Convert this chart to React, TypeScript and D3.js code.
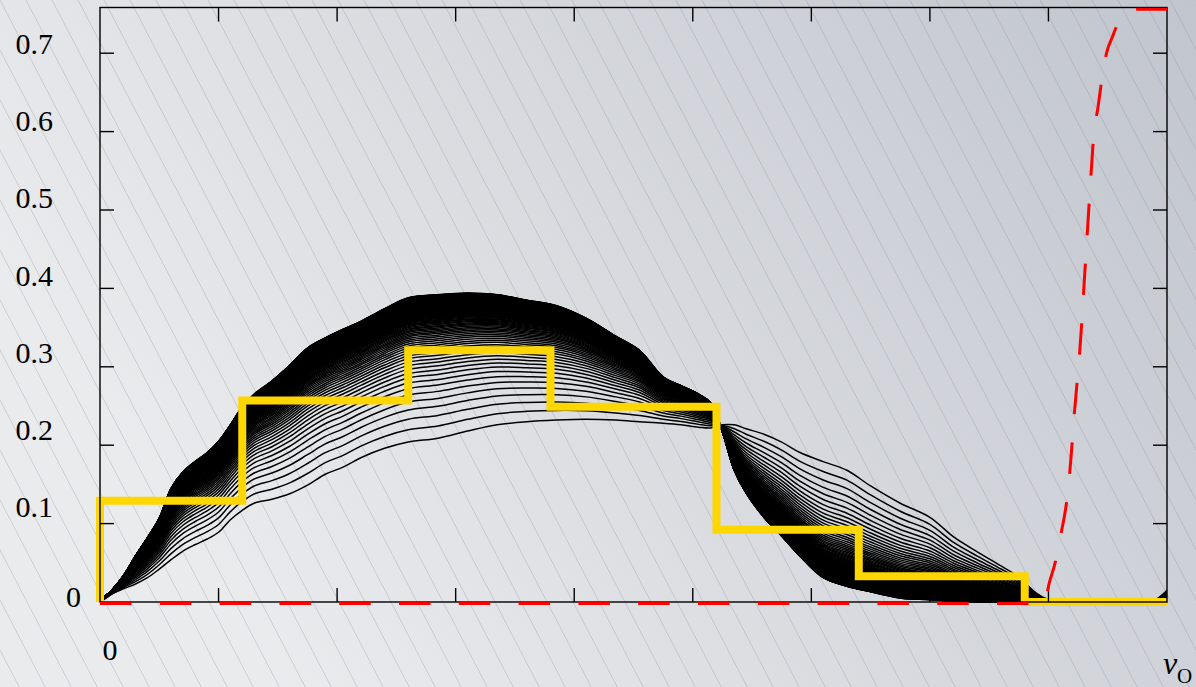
import React from 'react';
import * as d3 from 'd3';

const W = 1196;
const H = 687;

// axis ticks
const X_TICKS = [1, 2, 3, 4, 5, 6, 7, 8];
const Y_TICKS = [0.1, 0.2, 0.3, 0.4, 0.5, 0.6, 0.7];
const Y_TICK_LABELS = ['0.1', '0.2', '0.3', '0.4', '0.5', '0.6', '0.7'];

// shared abscissae of the curve family
const GRID_V = [0, 0.05, 0.1, 0.2, 0.3, 0.4, 0.5, 0.6, 0.7, 0.8, 0.9, 1.0, 1.1, 1.2, 1.3, 1.45, 1.6, 1.75, 1.9, 2.05,
  2.2, 2.4, 2.6, 2.85, 3.1, 3.35, 3.6, 3.85, 4.1, 4.35, 4.55, 4.75, 4.9, 5.05, 5.15, 5.25, 5.35, 5.45, 5.6, 5.75,
  5.9, 6.1, 6.3, 6.5, 6.75, 7.0, 7.2, 7.4, 7.6, 7.75, 7.9, 8.0, 8.1, 8.4, 8.75, 8.9, 9.0];

// initial (lowest on the left) curve
const INITIAL_CURVE = [0, 0.005, 0.010, 0.017, 0.023, 0.031, 0.042, 0.054, 0.065, 0.073, 0.080, 0.089, 0.105, 0.117,
  0.126, 0.131, 0.138, 0.149, 0.163, 0.172, 0.184, 0.196, 0.204, 0.209, 0.218, 0.226, 0.230, 0.232, 0.233, 0.232,
  0.230, 0.228, 0.226, 0.223, 0.222, 0.226, 0.226, 0.221, 0.214, 0.204, 0.191, 0.179, 0.168, 0.148, 0.126, 0.108,
  0.083, 0.064, 0.046, 0.032, 0.011, 0.003, 0, 0, 0, 0.003, 0.015];

// final (highest on the left) curve
const FINAL_CURVE = [0, 0.008, 0.015, 0.034, 0.059, 0.082, 0.107, 0.145, 0.166, 0.179, 0.190, 0.205, 0.226, 0.249,
  0.265, 0.282, 0.302, 0.324, 0.337, 0.348, 0.358, 0.374, 0.388, 0.392, 0.394, 0.392, 0.385, 0.378, 0.362, 0.339,
  0.321, 0.287, 0.276, 0.265, 0.254, 0.217, 0.168, 0.139, 0.108, 0.084, 0.059, 0.031, 0.020, 0.013, 0.005, 0.003,
  0.001, 0, 0, 0, 0, 0, 0, 0, 0, 0, 0];

// relative position of each intermediate curve between final (0) and initial (1)
const CURVE_WEIGHTS = [1, 0.915, 0.842, 0.778, 0.723, 0.674, 0.630, 0.591, 0.556, 0.525, 0.496, 0.470, 0.446, 0.423,
  0.403, 0.384, 0.366, 0.350, 0.335, 0.320, 0.307, 0.294, 0.282, 0.271, 0.261, 0.251, 0.241, 0.232, 0.224, 0.216,
  0.208, 0.200, 0.193, 0.187, 0.180, 0.174, 0.168, 0.163, 0.157, 0.152, 0.147, 0.142, 0.137, 0.133, 0.129, 0.124,
  0.120, 0.117, 0.113, 0.109, 0.106, 0.102, 0.099, 0.096, 0.093, 0.090, 0.087, 0.084, 0.081, 0.078, 0.076, 0.073,
  0.071, 0.068, 0.066, 0.064, 0.062, 0.059, 0.057, 0.055, 0.053, 0.051, 0.049, 0.048, 0.046, 0.044, 0.042, 0.041,
  0.039, 0.037, 0.036, 0.034, 0.033, 0.031, 0.030, 0.028, 0.027, 0.025, 0.024, 0.023, 0.021, 0.020, 0.019, 0.018,
  0.016, 0.015, 0.014, 0.013, 0.012, 0.011, 0.010, 0.009, 0.008, 0.007, 0.006, 0.005, 0.004, 0.003, 0.002, 0.001, 0];

// yellow step function
const STEP_EDGES = [0, 1.2, 2.6, 3.8, 5.2, 6.4, 7.8, 9.0];
const STEP_VALUES = [0.129, 0.257, 0.321, 0.249, 0.092, 0.033, 0];

// red dashed curve
const RED_V = [0, 7.96, 8.01, 8.06, 8.11, 8.15, 8.18, 8.22, 8.27, 8.31, 8.35, 8.38, 8.42, 8.45, 8.49, 8.54, 8.58,
  8.64, 8.70, 8.77, 9.0];
const RED_Y = [0, 0, 0.028, 0.054, 0.092, 0.126, 0.168, 0.245, 0.334, 0.430, 0.526, 0.593, 0.635, 0.668, 0.702,
  0.723, 0.738, 0.750, 0.757, 0.758, 0.758];

const SERIF = '"Liberation Serif", "Times New Roman", "DejaVu Serif", serif';

export default function App() {
  const L = 100, R = 1167, T = 7.5, B = 602;
  const x = d3.scaleLinear().domain([0, 9]).range([L, R]);
  const y = d3.scaleLinear().domain([0, (B - T) / 784]).range([B, T]);
  const labelY = d3.scaleLinear().domain([0.1, 0.7]).range([517, 54]);

  const curveLine = d3.line<[number, number]>()
    .x(d => x(d[0]))
    .y(d => y(d[1]))
    .curve(d3.curveCatmullRom.alpha(0.5));

  const curves = CURVE_WEIGHTS.map(w =>
    curveLine(GRID_V.map((v, i) => [v, FINAL_CURVE[i] + (INITIAL_CURVE[i] - FINAL_CURVE[i]) * w] as [number, number])) || ''
  );

  const stepPts: [number, number][] = [[0, 0]];
  STEP_VALUES.forEach((s, i) => stepPts.push([STEP_EDGES[i], s]));
  stepPts.push([STEP_EDGES[STEP_EDGES.length - 1], STEP_VALUES[STEP_VALUES.length - 1]]);
  const stepPath = d3.line<[number, number]>().x(d => x(d[0])).y(d => y(d[1])).curve(d3.curveStepAfter)(stepPts) || '';

  const redPath = d3.line<[number, number]>().x(d => x(d[0])).y(d => y(d[1])).curve(d3.curveMonotoneX)(
    RED_V.map((v, i) => [v, RED_Y[i]] as [number, number])) || '';

  const hatch: number[] = d3.range(-30, 50).map(k => k * 26);

  return (
    <svg width={W} height={H} style={{ position: 'absolute', left: 0, top: 0 }}>
      <defs>
        <linearGradient id="bg" x1="0" y1="0.4" x2="1" y2="0">
          <stop offset="0" stopColor="#eaebed" />
          <stop offset="1" stopColor="#c1c5cd" />
        </linearGradient>
        <clipPath id="plot">
          <rect x={L} y={T - 1} width={R - L} height={B - T + 6} />
        </clipPath>
      </defs>
      <rect x={0} y={0} width={W} height={H} fill="url(#bg)" />
      <g stroke="#8d9098" strokeOpacity={0.45} strokeWidth={0.7}>
        {hatch.map((h, i) => (
          <line key={i} x1={h} y1={0} x2={h + H * 0.52} y2={H} />
        ))}
      </g>
      <g clipPath="url(#plot)" fill="none" stroke="#000" strokeWidth={1.5}>
        {curves.map((d, i) => <path key={i} d={d} />)}
      </g>
      <path d={stepPath} fill="none" stroke="#FFD700" strokeWidth={8} strokeLinejoin="miter" />
      {/* frame */}
      <rect x={L} y={T} width={R - L} height={B - T} fill="none" stroke="#000" strokeWidth={1.4} />
      <g stroke="#000" strokeWidth={1.4}>
        {X_TICKS.map(t => (
          <g key={'x' + t}>
            <line x1={x(t)} x2={x(t)} y1={B} y2={B - 14} />
            <line x1={x(t)} x2={x(t)} y1={T} y2={T + 14} />
          </g>
        ))}
        {Y_TICKS.map(t => (
          <g key={'y' + t}>
            <line x1={L} x2={L + 14} y1={y(t)} y2={y(t)} />
            <line x1={R} x2={R - 14} y1={y(t)} y2={y(t)} />
          </g>
        ))}
      </g>
      <g transform="translate(0,1.5)">
        <path d={redPath} fill="none" stroke="#ff0000" strokeWidth={3} strokeDasharray="31.5 28.3" />
      </g>
      <g fontFamily={SERIF} fontSize={30} fill="#000">
        {Y_TICKS.map((t, i) => (
          <text key={'yl' + t} x={53} y={labelY(t)} textAnchor="end">{Y_TICK_LABELS[i]}</text>
        ))}
        <text x={81} y={607} textAnchor="end">0</text>
        <text x={110} y={660} textAnchor="middle">0</text>
        <text x={1163} y={674} fontStyle="italic" fontSize={32}>v</text>
        <text x={1177} y={683} fontSize={21}>O</text>
      </g>
    </svg>
  );
}
